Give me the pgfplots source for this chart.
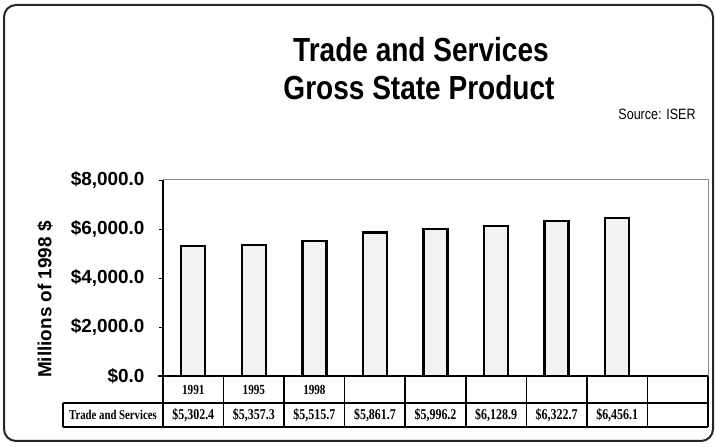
\documentclass[border=0pt]{standalone}
\usepackage{fontspec}
\setmainfont{Liberation Sans}
\newfontfamily\narrowsans[FakeStretch=0.84]{Liberation Sans}
\newfontfamily\narrowserif[FakeStretch=0.8]{Liberation Serif}
\usepackage{pgfplots}
\pgfplotsset{compat=1.18}
\begin{document}
\begin{tikzpicture}[x=1bp,y=1bp]
\useasboundingbox (0,0) rectangle (716,447);
\fill[white] (0,0) rectangle (716,447);
\draw[black!85, line width=2bp, rounded corners=12bp] (4,6) rectangle (713,442);
% titles
\node[anchor=base, font=\narrowsans\fontsize{33.5}{33.5}\selectfont\bfseries] at (421,385) {Trade and Services};
\node[anchor=base, font=\narrowsans\fontsize{33.5}{33.5}\selectfont\bfseries] at (419,347) {Gross State Product};
\node[anchor=base, font=\narrowsans\fontsize{15}{15}\selectfont] at (657,327) {Source: ISER};
\begin{axis}[
  at={(163bp,71bp)}, anchor=south west,
  scale only axis, width=545bp, height=196bp,
  xmin=-0.5, xmax=8.5, ymin=0, ymax=8000,
  xtick=\empty,
  ytick={0,2000,4000,6000,8000},
  yticklabels={{\$0.0},{\$2,000.0},{\$4,000.0},{\$6,000.0},{\$8,000.0}},
  yticklabel style={font=\fontsize{19}{19}\selectfont\bfseries, xshift=-11bp},
  ylabel={Millions of 1998 \$},
  ylabel style={font=\fontsize{19}{19}\selectfont\bfseries, at={(axis description cs:-0.2165,0.39)}, anchor=center},
  axis line style={draw=none},
  tick align=outside, major tick length=4bp,
  ytick pos=left,
  ytick style={black, line width=0.8bp},
  ybar, bar width=24bp,
  clip=false,
]
\addplot[fill=white!95!black, draw=black, line width=2.4bp] coordinates {
 (0,5302.4) (1,5357.3) (2,5515.7) (3,5861.7) (4,5996.2) (5,6128.9) (6,6322.7) (7,6456.1)};
\draw[black, line width=1.6bp] (rel axis cs:0,0) -- (rel axis cs:0,1);
\draw[black!45, line width=1bp] (rel axis cs:0,1) -- (rel axis cs:1,1) -- (rel axis cs:1,0);
\end{axis}
% data table
\begin{scope}[line width=1.5bp, black]
\draw (158,71) -- (708,71);
\draw (63,44) -- (708,44);
\draw (63,20) -- (708,20);
\draw (63,44) -- (63,20);
\foreach \k in {0,...,9} \draw (163+\k*60.556,71) -- (163+\k*60.556,20);
\end{scope}
\node[font=\narrowserif\fontsize{13.5}{13.5}\selectfont\bfseries] at (113,32) {Trade and Services};
\foreach \lab [count=\i from 0] in {1991,1995,1998}
  \node[font=\narrowserif\fontsize{14}{14}\selectfont\bfseries] at (193.3+\i*60.556,57.5) {\lab};
\foreach \lab [count=\i from 0] in {{\$5,302.4},{\$5,357.3},{\$5,515.7},{\$5,861.7},{\$5,996.2},{\$6,128.9},{\$6,322.7},{\$6,456.1}}
  \node[font=\narrowserif\fontsize{15}{15}\selectfont\bfseries] at (193.3+\i*60.556,32) {\lab};
\end{tikzpicture}
\end{document}
